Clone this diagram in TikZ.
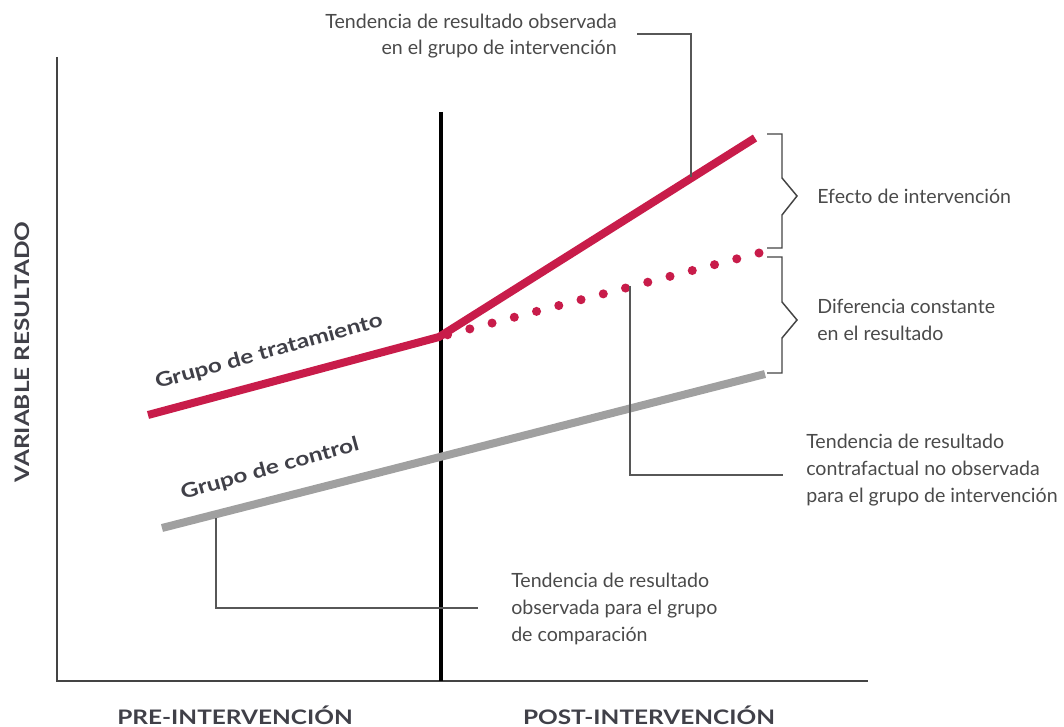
\documentclass[tikz,border=0pt]{standalone}
\usepackage{fontspec}
\setmainfont{Lato}
\newfontfamily\lblfont[FakeStretch=1.22]{Lato}
\definecolor{trt}{HTML}{C81C4A}
\definecolor{ctl}{HTML}{A0A0A0}
\definecolor{txt}{HTML}{4A4A4A}
\definecolor{lbl}{HTML}{404048}
\definecolor{ax}{HTML}{444444}
\begin{document}
\begin{tikzpicture}[x=0.75pt,y=-0.75pt,
  note/.style={inner sep=0pt,text=txt,font=\fontsize{14.7}{20}\selectfont},
  bold/.style={inner sep=0pt,text=lbl,font=\lblfont\fontsize{15}{18}\selectfont\bfseries},
  leader/.style={draw=ax!90,line width=1pt},
  brc/.style={draw=ax,line width=1.1pt},
  axis/.style={draw=ax,line width=1.5pt}]
\useasboundingbox (0,0) rectangle (1064,727);
% coordinates
\coordinate (o) at (57,681);
\coordinate (ytop) at (57,57);
\coordinate (xend) at (868,681);
\coordinate (vtop) at (441,112);
\coordinate (vbot) at (441,681);
\coordinate (t0) at (148,415);
\coordinate (t1) at (439,337);
\coordinate (t2) at (755,138);
\coordinate (cf) at (759,253);
\coordinate (c0) at (162,528);
\coordinate (c1) at (765,374);
% axes
\draw[axis] (ytop) -- (o) -- (xend);
\draw[black,line width=3pt] (vtop) -- (vbot);
% lines
\draw[ctl,line width=6pt] (c0) -- (c1);
\draw[trt,line width=6pt,line join=round] (t0) -- (t1) -- (t2);
\draw[trt,line width=6.8pt,line cap=round,dash pattern=on 0pt off 17.25pt] (cf) -- (t1);
% braces
\draw[brc] (767,134) -- (782,134) -- (782,178) -- (797,196) -- (782,215) -- (782,248) -- (767,248);
\draw[brc] (767,257) -- (782,257) -- (782,302) -- (797,320) -- (782,338) -- (782,373) -- (767,373);
% texts
\node[note,anchor=east,align=right] (ntop) at (617,36) {Tendencia de resultado observada\\en el grupo de intervención};
\node[note,anchor=west] (neff) at (817,196) {Efecto de intervención};
\node[note,anchor=west,align=left] (ndif) at (817,320) {Diferencia constante\\en el resultado};
\node[note,anchor=west,align=left] (ncf) at (806,470) {Tendencia de resultado\\contrafactual no observada\\para el grupo de intervención};
\node[note,anchor=west,align=left] (nctl) at (511,609) {Tendencia de resultado\\observada para el grupo\\de comparación};
\node[bold] (pre) at (235,715) {PRE-INTERVENCIÓN};
\node[bold] (post) at (649,715) {POST-INTERVENCIÓN};
\node[bold,rotate=90] (yl) at (22,352) {VARIABLE RESULTADO};
\node[bold,rotate=15.5] (gt) at (269,352) {Grupo de tratamiento};
\node[bold,rotate=15.5] (gc) at (270,469) {Grupo de control};
% leaders
\coordinate (l1a) at (637,34);
\coordinate (l1t) at (691,177);
\draw[leader] (l1a) -| (l1t);
\coordinate (l2t) at (630,286);
\coordinate (l2e) at (783,475);
\draw[leader] (l2t) |- (l2e);
\coordinate (l3t) at (216,518);
\coordinate (l3e) at (478,608);
\draw[leader] (l3t) |- (l3e);
\end{tikzpicture}
\end{document}
